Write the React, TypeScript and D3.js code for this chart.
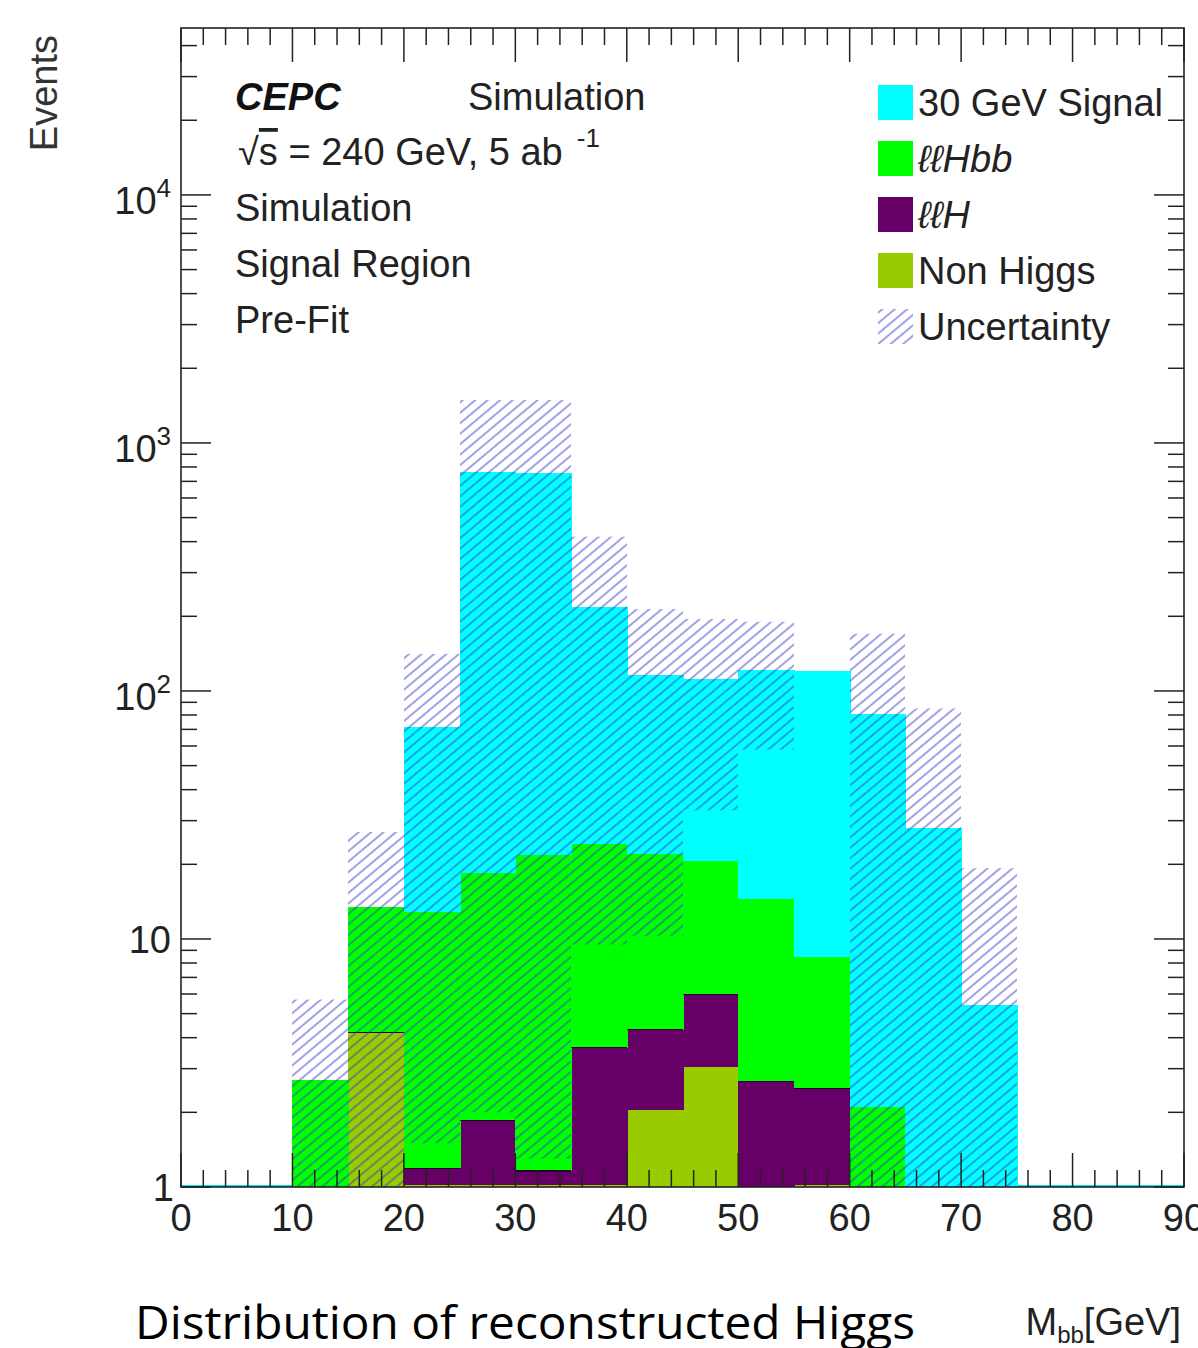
import React from "react";
import * as d3 from "d3";

// ---- data (bins of 5 GeV, 0..90) ----
const binLow = [0, 5, 10, 15, 20, 25, 30, 35, 40, 45, 50, 55, 60, 65, 70, 75, 80, 85];
const binWidth = 5;
const nonHiggs = [0, 0, 0, 4.2, 1.02, 1.02, 1.02, 1.02, 2.05, 3.06, 0, 1.02, 0, 0, 0, 0, 0, 0];
const llH = [0, 0, 0, 0, 0.17, 0.83, 0.14, 2.63, 2.26, 2.91, 2.66, 1.47, 0, 0, 0, 0, 0, 0];
const llHbb = [0, 0, 2.7, 9.2, 11.6, 16.6, 20.7, 20.5, 17.6, 14.6, 11.9, 6.0, 2.1, 0, 0, 0, 0, 0];
const signal30 = [0, 0, 0, 0, 59, 742, 738, 194, 94, 91, 107, 112, 79, 28, 5.4, 0, 0, 0];
const uncUp = [0, 0, 5.7, 27, 141, 1490, 1490, 419, 214, 195, 190, 0, 170, 85, 19.3, 0, 0, 0];
const uncDown = [0, 0, 0.5, 0.5, 1.5, 2.0, 1.3, 9.5, 10.3, 33, 58, 0, 0.5, 0.5, 0.5, 0, 0, 0];

const xTickValues = [0, 10, 20, 30, 40, 50, 60, 70, 80, 90];
const yMajorValues = [1, 10, 100, 1000, 10000];
const yMajorLabels = [["1", ""], ["10", ""], ["10", "2"], ["10", "3"], ["10", "4"]];

const seriesKeys = ["nonHiggs", "llH", "llHbb", "signal30"];
const seriesColors = ["#99cc00", "#660066", "#00ff00", "#00ffff"];

const legendLabels = ["30 GeV Signal", "ℓℓHbb", "ℓℓH", "Non Higgs", "Uncertainty"];
const legendColors = ["#00ffff", "#00ff00", "#660066", "#99cc00", "hatch"];
const legendItalic = [false, true, true, false, false];

const infoLines = ["Simulation", "Signal Region", "Pre-Fit"];

export default function App() {
  const W = 1198, H = 1348;
  const left = 181, right = 1184, top = 28, bottom = 1187;
  const x = d3.scaleLinear().domain([0, 90]).range([left, right]);
  const y = d3.scaleLog().domain([1, 47100]).range([bottom, top]).clamp(true);
  const xr = (v: number) => Math.round(x(v));

  const rows = binLow.map((b, i) => ({
    bin: b,
    nonHiggs: nonHiggs[i],
    llH: llH[i],
    llHbb: llHbb[i],
    signal30: signal30[i],
  }));
  const stack = d3.stack<any>().keys(seriesKeys)(rows);

  const font = "'Liberation Sans', Arial, Helvetica, sans-serif";
  const fs = 38;

  const xMinor: number[] = d3.range(0, 91, 2).filter((v) => v % 10 !== 0);
  const yMinor: number[] = [];
  for (let e = 0; e <= 4; e++) for (let m = 2; m <= 9; m++) {
    const v = m * Math.pow(10, e);
    if (v < 47100) yMinor.push(v);
  }

  const purpleLayer = stack[1];

  return (
    <svg width={W} height={H} style={{ position: "absolute", left: 0, top: 0, background: "#fff" }} fontFamily={font}>
      <defs>
        <pattern id="hatch" patternUnits="userSpaceOnUse" width="8" height="8" patternTransform="rotate(-40)">
          <line x1="0" y1="4" x2="8" y2="4" stroke="#3333cc" strokeWidth="1.5" strokeOpacity="0.62" />
        </pattern>
        <clipPath id="plotClip">
          <rect x={left} y={top} width={right - left} height={bottom - top} />
        </clipPath>
      </defs>
      <rect x={0} y={0} width={W} height={H} fill="#fff" />

      <g clipPath="url(#plotClip)" shapeRendering="crispEdges">
        <line x1={left} x2={right} y1={bottom - 1} y2={bottom - 1} stroke="#00e5e5" strokeWidth={2} />
        {stack.map((layer, li) => (
          <g key={li}>
            {layer.map((d, i) => {
              if (d[1] - d[0] <= 0) return null;
              const y0 = y(Math.max(d[0], 1));
              const y1 = y(Math.max(d[1], 1));
              return (
                <rect key={i} x={xr(binLow[i])} width={xr(binLow[i] + binWidth) - xr(binLow[i]) + 0.5}
                  y={y1} height={Math.max(0, y0 - y1)} fill={seriesColors[li]} />
              );
            })}
          </g>
        ))}
        {purpleLayer.map((d, i) =>
          d[1] > 1.05 && (llH[i] > 0 || nonHiggs[i] > 1.5) ? (
            <line key={i} x1={xr(binLow[i])} x2={xr(binLow[i] + binWidth)} y1={y(d[1])} y2={y(d[1])}
              stroke="#2a002a" strokeWidth={1.5} />
          ) : null
        )}
      </g>
      <g clipPath="url(#plotClip)">
        {binLow.map((b, i) =>
          uncUp[i] > 0 ? (
            <rect key={i} x={xr(b)} width={xr(b + binWidth) - xr(b)} y={y(uncUp[i])}
              height={y(Math.max(uncDown[i], 1)) - y(uncUp[i])} fill="url(#hatch)" />
          ) : null
        )}
      </g>

      <rect x={left} y={top} width={right - left} height={bottom - top} fill="none" stroke="#222" strokeWidth={1.6} />

      {xTickValues.map((v) => (
        <g key={"xt" + v}>
          <line x1={x(v)} x2={x(v)} y1={bottom} y2={bottom - 34} stroke="#222" strokeWidth={1.5} />
          <line x1={x(v)} x2={x(v)} y1={top} y2={top + 34} stroke="#222" strokeWidth={1.5} />
          <text x={x(v)} y={1231} fontSize={fs} textAnchor="middle" fill="#222">{v}</text>
        </g>
      ))}
      {xMinor.map((v) => (
        <g key={"xm" + v}>
          <line x1={x(v)} x2={x(v)} y1={bottom} y2={bottom - 17} stroke="#222" strokeWidth={1.5} />
          <line x1={x(v)} x2={x(v)} y1={top} y2={top + 17} stroke="#222" strokeWidth={1.5} />
        </g>
      ))}

      {yMajorValues.map((v, i) => (
        <g key={"yt" + v}>
          <line x1={left} x2={left + 30} y1={y(v)} y2={y(v)} stroke="#222" strokeWidth={1.5} />
          <line x1={right} x2={right - 30} y1={y(v)} y2={y(v)} stroke="#222" strokeWidth={1.5} />
          <text x={i === 0 ? 174 : 171} y={y(v) + (yMajorLabels[i][1] ? 19 : 14)} fontSize={fs} textAnchor="end" fill="#222">
            {yMajorLabels[i][0]}
            {yMajorLabels[i][1] ? <tspan dy={-17} fontSize={26}>{yMajorLabels[i][1]}</tspan> : null}
          </text>
        </g>
      ))}
      {yMinor.map((v) => (
        <g key={"ym" + v}>
          <line x1={left} x2={left + 16} y1={y(v)} y2={y(v)} stroke="#222" strokeWidth={1.5} />
          <line x1={right} x2={right - 16} y1={y(v)} y2={y(v)} stroke="#222" strokeWidth={1.5} />
        </g>
      ))}

      <text transform="translate(57,35) rotate(-90)" fontSize={fs} textAnchor="end" fill="#333">Events</text>
      <text x={1181} y={1335} fontSize={fs} textAnchor="end" fill="#222">
        M<tspan fontSize={24} dy={8}>bb</tspan><tspan dy={-8}>[GeV]</tspan>
      </text>

      <text x={235} y={110} fontSize={fs} fontWeight="bold" fontStyle="italic" fill="#111">CEPC</text>
      <text x={468} y={110} fontSize={fs} fill="#222">Simulation</text>
      <text x={238} y={165} fontSize={fs} fill="#222">
        √<tspan style={{ textDecoration: "overline" }}>s</tspan> = 240 GeV, 5 ab<tspan dx={14} dy={-18} fontSize={26}>-1</tspan>
      </text>
      {infoLines.map((t, i) => (
        <text key={t} x={235} y={221 + i * 56} fontSize={fs} fill="#222">{t}</text>
      ))}

      {legendLabels.map((t, i) => {
        const cy = 102 + i * 56;
        return (
          <g key={t}>
            <rect x={878} y={cy - 17} width={35} height={35}
              fill={legendColors[i] === "hatch" ? "url(#hatch)" : legendColors[i]} />
            <text x={918} y={cy + 14} fontSize={fs} fill="#222" fontStyle={legendItalic[i] ? "italic" : "normal"}>{t}</text>
          </g>
        );
      })}

      <text x={135} y={1339} fontSize={46} fontFamily="'Open Sans', 'Noto Sans', sans-serif" fill="#000"
        textLength={780} lengthAdjust="spacingAndGlyphs">Distribution of reconstructed Higgs</text>
    </svg>
  );
}
